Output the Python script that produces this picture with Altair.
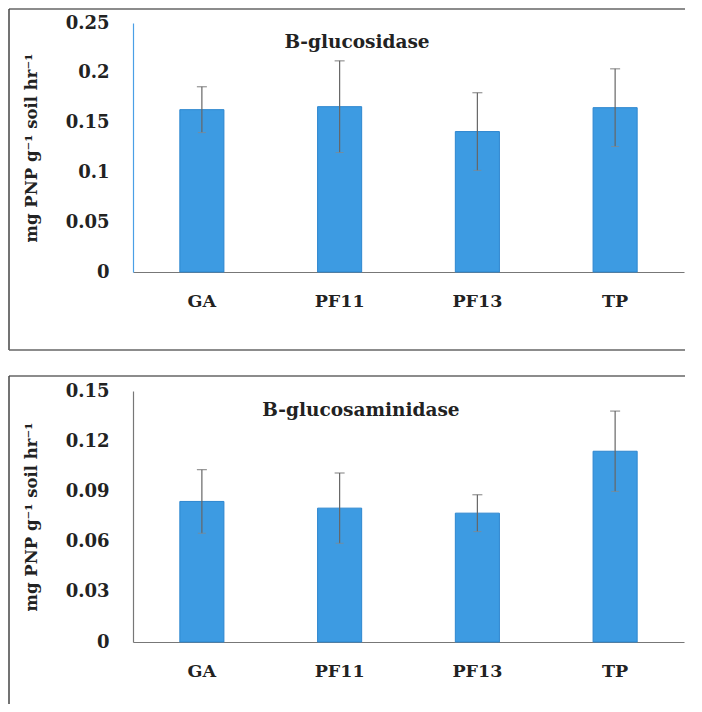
import altair as alt
import pandas as pd

categories = ["GA", "PF11", "PF13", "TP"]
gluc_mean = [0.163, 0.166, 0.141, 0.165]
gluc_sd = [0.023, 0.046, 0.039, 0.039]
glcn_mean = [0.084, 0.080, 0.077, 0.114]
glcn_sd = [0.019, 0.021, 0.011, 0.024]

y_title = "mg PNP g\u207b\u00b9 soil hr\u207b\u00b9"
FONT = "DejaVu Serif"
BAR = "#3d9be2"
W = 551


def panel(title, means, sds, ymax, step, ycolor, tx):
    df = pd.DataFrame({"cat": categories, "mean": means, "sd": sds})
    df["lo"] = df["mean"] - df["sd"]
    df["hi"] = df["mean"] + df["sd"]
    ticks = [round(i * step, 4) for i in range(int(round(ymax / step)) + 1)]
    x = alt.X("cat:N", sort=categories,
              scale=alt.Scale(paddingInner=0.68, paddingOuter=0.34),
              axis=alt.Axis(title=None, labelAngle=0, ticks=False, domainColor="#777",
                            labelFont=FONT, labelFontWeight="bold", labelFontSize=17.5,
                            labelColor="#222", labelPadding=20, domainWidth=1.2))
    yscale = alt.Scale(domain=[0, ymax], nice=False)
    base = alt.Chart(df)
    bars = base.mark_bar(color=BAR, stroke="#2d86cf", strokeWidth=1).encode(
        x=x,
        y=alt.Y("mean:Q", scale=yscale,
                axis=alt.Axis(title=y_title, values=ticks, format="~g", grid=False, ticks=False,
                              domainColor=ycolor, domainWidth=1.2,
                              labelFont=FONT, labelFontWeight="bold", labelFontSize=18,
                              labelColor="#222", labelPadding=24,
                              titleFont=FONT, titleFontWeight="bold", titleFontSize=16.5,
                              titleColor="#222", titleX=-94)),
    )
    err = base.mark_rule(color="#666", strokeWidth=1.2).encode(
        x=alt.X("cat:N", sort=categories), y="lo:Q", y2="hi:Q")
    cap_hi = base.mark_tick(color="#666", thickness=1.2, size=10, orient="horizontal").encode(
        x=alt.X("cat:N", sort=categories), y="hi:Q")
    cap_lo = base.mark_tick(color="#888", thickness=1, size=8, orient="horizontal").encode(
        x=alt.X("cat:N", sort=categories), y="lo:Q")
    one = alt.Data(values=[{"t": title}])
    ttl = alt.Chart(one).mark_text(font=FONT, fontWeight="bold", fontSize=18.5,
                                   color="#222", align="center", baseline="middle").encode(
        text="t:N", x=alt.value(tx), y=alt.value(19))
    return bars, err, cap_hi, cap_lo, ttl, one


b1 = panel("B-glucosidase", gluc_mean, gluc_sd, 0.25, 0.05, "#4a9fe6", 224)
frame1 = [
    alt.Chart(b1[5]).mark_rule(color="#666", strokeWidth=1.5).encode(
        x=alt.value(-124), x2=alt.value(552), y=alt.value(-14)),
    alt.Chart(b1[5]).mark_rule(color="#444", strokeWidth=1.5).encode(
        x=alt.value(-124), y=alt.value(-14), y2=alt.value(327)),
    alt.Chart(b1[5]).mark_rule(color="#666", strokeWidth=1.5).encode(
        x=alt.value(-124), x2=alt.value(552), y=alt.value(327)),
]
top = alt.layer(*b1[:5], *frame1).properties(width=W, height=249)

b2 = panel("B-glucosaminidase", glcn_mean, glcn_sd, 0.15, 0.03, "#777", 228)
frame2 = [
    alt.Chart(b2[5]).mark_rule(color="#666", strokeWidth=1.5).encode(
        x=alt.value(-124), x2=alt.value(552), y=alt.value(-15)),
    alt.Chart(b2[5]).mark_rule(color="#444", strokeWidth=1.5).encode(
        x=alt.value(-124), y=alt.value(-15), y2=alt.value(313)),
]
bottom = alt.layer(*b2[:5], *frame2).properties(width=W, height=251)

chart = alt.vconcat(top, bottom, spacing=24).properties(
    padding=0, background="white").configure_view(stroke=None)

chart.save("out.html", embed_options={"renderer": "svg", "actions": False})
